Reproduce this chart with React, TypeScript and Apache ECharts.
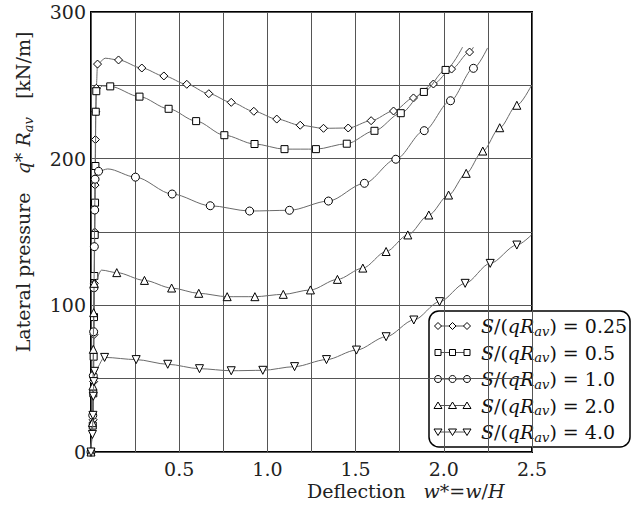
import React, { useEffect, useRef } from 'react';
import * as echarts from 'echarts';

const FAM = 'DejaVu Serif';

// Tick labels
const xTickLabels = ['0.5', '1.0', '1.5', '2.0', '2.5'];
const yTickLabels = ['0', '100', '200', '300'];

// Parameter values S/(qRav)
const paramValues = ['0.25', '0.5', '1.0', '2.0', '4.0'];

// [x, y, markerShown]
const s025: number[][] = [
  [0, 0, 1], [0.012, 22, 1], [0.015, 48, 1], [0.017, 80, 1], [0.019, 115, 1], [0.021, 150, 1],
  [0.023, 182, 1], [0.025, 213, 1], [0.027, 232, 1], [0.03, 248, 1], [0.037, 264.5, 1],
  [0.08, 268.5, 0], [0.156, 267.3, 1], [0.288, 261.8, 1], [0.413, 256.4, 1], [0.543, 250.7, 1],
  [0.668, 244.3, 1], [0.795, 238.4, 1], [0.923, 232.3, 1], [1.053, 227, 1], [1.186, 222.8, 1],
  [1.318, 220.7, 1], [1.458, 220.9, 1], [1.588, 225.9, 1], [1.715, 232.5, 1], [1.828, 241.4, 1],
  [1.941, 250.9, 1], [2.044, 261.1, 1], [2.146, 272.7, 1], [2.168, 276, 0],
];
const s05: number[][] = [
  [0, 0, 1], [0.01, 18, 1], [0.013, 40, 1], [0.015, 65, 1], [0.017, 92, 1], [0.019, 120, 1],
  [0.021, 148, 1], [0.023, 170, 1], [0.025, 195, 1], [0.027, 232, 1], [0.03, 246, 1],
  [0.065, 249.6, 0], [0.109, 249.3, 1], [0.275, 242.3, 1], [0.44, 234, 1], [0.596, 225.6, 1],
  [0.756, 216, 1], [0.927, 210, 1], [1.097, 206.5, 1], [1.275, 206.5, 1], [1.45, 210.2, 1],
  [1.607, 219, 1], [1.756, 231, 1], [1.887, 245.5, 1], [2.01, 260.5, 1], [2.106, 276, 0],
];
const s10: number[][] = [
  [0, 0, 1], [0.01, 25, 1], [0.013, 52, 1], [0.015, 82, 1], [0.017, 112, 1], [0.019, 140, 1],
  [0.021, 165, 1], [0.023, 186, 1], [0.043, 191.4, 1], [0.095, 193, 0], [0.252, 187.4, 1],
  [0.46, 175.9, 1], [0.676, 167.9, 1], [0.899, 164.3, 1], [1.125, 164.8, 1], [1.346, 171.1, 1],
  [1.55, 183.2, 1], [1.728, 199.6, 1], [1.889, 219.1, 1], [2.038, 239.5, 1], [2.168, 261.6, 1],
  [2.248, 275.5, 0],
];
const s20: number[][] = [
  [0, 0, 1], [0.008, 20, 1], [0.011, 45, 1], [0.013, 70, 1], [0.015, 95, 1], [0.018, 115, 1],
  [0.06, 124, 0], [0.146, 122.3, 1], [0.303, 117, 1], [0.457, 111.8, 1], [0.611, 108.2, 1],
  [0.772, 105.9, 1], [0.929, 105.9, 1], [1.09, 107.5, 1], [1.244, 110.5, 1], [1.397, 117.7, 1],
  [1.541, 125.4, 1], [1.673, 136.7, 1], [1.796, 148, 1], [1.915, 161.6, 1], [2.027, 175.2, 1],
  [2.127, 190, 1], [2.221, 205.2, 1], [2.317, 221.1, 1], [2.414, 236.4, 1], [2.497, 250, 0],
];
const s40: number[][] = [
  [0, 0, 1], [0.008, 12, 1], [0.011, 25, 1], [0.013, 38, 1], [0.016, 48, 1], [0.02, 55, 1],
  [0.077, 64.5, 1], [0.256, 63, 1], [0.435, 59.8, 1], [0.615, 56.8, 1], [0.795, 55.4, 1],
  [0.974, 55.7, 1], [1.154, 58.2, 1], [1.335, 63, 1], [1.505, 69.5, 1], [1.673, 78.6, 1],
  [1.83, 90, 1], [1.976, 102.5, 1], [2.121, 115, 1], [2.263, 128.6, 1], [2.414, 141.1, 1],
  [2.497, 148, 0],
];

const allSeries = [s025, s05, s10, s20, s40];
const symbolNames = ['diamond', 'rect', 'circle', 'triangle', 'triangle'];
const symbolRotations = [0, 0, 0, 0, 180];
const symbolSizes = [8, 7, 8, 8, 8];

const N19 = `19px ${FAM}`;
const I19 = `italic 19px ${FAM}`;
const SUB = `italic 13px ${FAM}`;

let measureCtx: CanvasRenderingContext2D | null = null;
function measure(t: string, font: string) {
  if (!measureCtx) measureCtx = document.createElement('canvas').getContext('2d');
  if (!measureCtx) return t.length * 10;
  measureCtx.font = font;
  return measureCtx.measureText(t).width;
}

// pieces: [text, font, dy]; laid out along local x from x0
function pieces(list: [string, string, number][], x0: number, y0: number, color: string) {
  let x = x0;
  const out: any[] = [];
  list.forEach(([t, font, dy]) => {
    out.push({
      type: 'text', x, y: y0 + dy,
      style: { text: t, font, fill: color, verticalAlign: 'middle', align: 'left' },
    });
    x += measure(t, font);
  });
  return { els: out, width: x - x0 };
}

function legendSymbol(kind: number, cx: number, cy: number) {
  const st = { fill: '#fff', stroke: '#000', lineWidth: 1 };
  const r = 3.5;
  if (kind === 0) {
    return { type: 'polygon', shape: { points: [[cx, cy - r], [cx + r, cy], [cx, cy + r], [cx - r, cy]] }, style: st };
  }
  if (kind === 1) {
    return { type: 'rect', shape: { x: cx - 3, y: cy - 3, width: 6, height: 6 }, style: st };
  }
  if (kind === 2) {
    return { type: 'circle', shape: { cx, cy, r: 3.5 }, style: st };
  }
  if (kind === 3) {
    return { type: 'polygon', shape: { points: [[cx, cy - 3.5], [cx + 4, cy + 3], [cx - 4, cy + 3]] }, style: st };
  }
  return { type: 'polygon', shape: { points: [[cx, cy + 3.5], [cx + 4, cy - 3], [cx - 4, cy - 3]] }, style: st };
}

export default function App() {
  const ref = useRef<HTMLDivElement>(null);
  useEffect(() => {
    document.body.style.margin = '0';
    if (!ref.current) return;
    const chart = echarts.init(ref.current, undefined, { renderer: 'svg' });

    const series = allSeries.map((pts, i) => ({
      type: 'line',
      name: paramValues[i],
      smooth: 0.3,
      smoothMonotone: 'x',
      symbol: symbolNames[i],
      symbolRotate: symbolRotations[i],
      symbolSize: symbolSizes[i],
      showAllSymbol: true,
      lineStyle: { color: '#6a6a6a', width: 1 },
      itemStyle: { color: '#fff', borderColor: '#000', borderWidth: 1 },
      data: pts.map(([x, y, m]) => (m ? [x, y] : { value: [x, y], symbol: 'none' })),
      z: 3 + i,
    }));

    const legendX = 429;
    const legendY = 311;
    const rowH = 26.5;
    const legendChildren: any[] = [
      {
        type: 'rect',
        shape: { x: legendX, y: legendY, width: 201, height: 136, r: 10 },
        style: { fill: '#fff', stroke: '#000', lineWidth: 1.5 },
      },
    ];
    paramValues.forEach((v, i) => {
      const cy = legendY + 15 + i * rowH;
      legendChildren.push({
        type: 'line',
        shape: { x1: 438, y1: cy, x2: 467, y2: cy },
        style: { stroke: '#555', lineWidth: 1 },
      });
      [438, 452.5, 467].forEach((cx) => legendChildren.push(legendSymbol(i, cx, cy)));
      const p = pieces([
        ['S', I19, 0], ['/(', N19, 0], ['q', I19, 0], ['R', I19, 0], ['av', SUB, 5],
        [') = ' + v, N19, 0],
      ], 481, cy, '#111');
      legendChildren.push(...p.els);
    });

    const yt = pieces([
      ['Lateral pressure   ', N19, 0], ['q', I19, 0], ['* ', N19, -2], ['R', I19, 0], ['av', SUB, 5],
      ['   [kN/m]', N19, 0],
    ], 0, 0, '#222');
    const yTitle = {
      type: 'group', x: 23, y: 192, rotation: Math.PI / 2,
      children: yt.els.map((e: any) => ({ ...e, x: e.x - yt.width / 2 })),
    };

    const xt = pieces([
      ['Deflection   ', N19, 0], ['w', I19, 0], ['*=', N19, 0], ['w', I19, 0], ['/', N19, 0], ['H', I19, 0],
    ], 0, 0, '#222');
    const xTitle = {
      type: 'group', x: 307, y: 491,
      children: xt.els,
    };

    const option = {
      animation: false,
      grid: {
        left: 91, right: 99, top: 12, bottom: 56,
        show: true, borderColor: '#000', borderWidth: 2,
      },
      xAxis: {
        type: 'value', min: 0, max: 2.5, interval: 0.25,
        axisLine: { show: false },
        axisTick: { show: false },
        splitLine: { show: true, lineStyle: { color: '#555', width: 1 } },
        axisLabel: {
          fontFamily: FAM, fontSize: 19, color: '#222', margin: 7,
          formatter: (val: number) => {
            const k = Math.round(val / 0.5);
            if (Math.abs(val - k * 0.5) < 1e-6 && k >= 1) return xTickLabels[k - 1];
            return '';
          },
        },
      },
      yAxis: {
        type: 'value', min: 0, max: 300, interval: 50,
        axisLine: { show: false },
        axisTick: { show: false },
        splitLine: { show: true, lineStyle: { color: '#555', width: 1 } },
        axisLabel: {
          fontFamily: FAM, fontSize: 19, color: '#222', margin: 5,
          formatter: (val: number) => {
            const k = Math.round(val / 100);
            if (Math.abs(val - k * 100) < 1e-6) return yTickLabels[k];
            return '';
          },
        },
      },
      series,
      graphic: [
        yTitle,
        xTitle,
        { type: 'group', children: legendChildren, z: 100 },
      ],
    };
    chart.setOption(option as any);
    return () => chart.dispose();
  }, []);
  return <div ref={ref} style={{ width: 631, height: 508 }} />;
}
